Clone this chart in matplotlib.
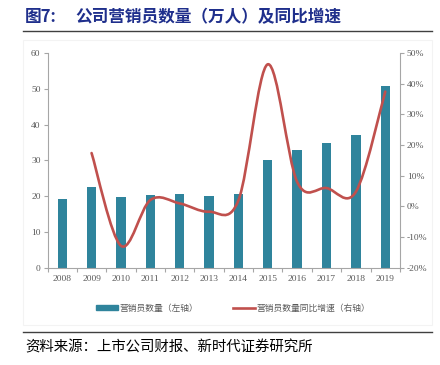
import matplotlib
matplotlib.use('Agg')
import numpy as np
import matplotlib.pyplot as plt
from matplotlib.path import Path
from matplotlib.patches import PathPatch, Rectangle
from matplotlib.lines import Line2D
from matplotlib.ticker import FixedLocator, FuncFormatter

plt.rcParams['font.family'] = ['Noto Sans CJK SC', 'DejaVu Sans']

years = ['2008', '2009', '2010', '2011', '2012', '2013',
         '2014', '2015', '2016', '2017', '2018', '2019']
agents = [19.3, 22.7, 19.9, 20.3, 20.5, 20.1, 20.6, 30.1, 32.9, 34.8, 37.1, 50.8]  # 万人
growth = [None, 17.4, -12.8, 2.1, 1.0, -1.7, 2.0, 46.3, 8.0, 6.0, 4.8, 37.4]  # %

bar_color = '#2F849C'
line_color = '#C0504D'
axis_gray = '#A6A6A6'
text_gray = '#595959'

fig = plt.figure(figsize=(4.4, 3.65), dpi=100)
ax = fig.add_axes([0.108, 0.266, 0.801, 0.589])
ax2 = ax.twinx()

x = np.arange(len(years))
ax.bar(x, agents, width=0.32, color=bar_color, zorder=2)

# smoothed line (bezier through the points, like excel's smooth line)
gx = [i for i, g in enumerate(growth) if g is not None]
gy = [g for g in growth if g is not None]
n = len(gx)
verts = [(gx[0], gy[0])]
codes = [Path.MOVETO]
for i in range(n - 1):
    p0 = (gx[max(i - 1, 0)], gy[max(i - 1, 0)])
    p1 = (gx[i], gy[i])
    p2 = (gx[i + 1], gy[i + 1])
    p3 = (gx[min(i + 2, n - 1)], gy[min(i + 2, n - 1)])
    c1 = (p1[0] + (p2[0] - p0[0]) / 6, p1[1] + (p2[1] - p0[1]) / 6)
    c2 = (p2[0] - (p3[0] - p1[0]) / 6, p2[1] - (p3[1] - p1[1]) / 6)
    verts += [c1, c2, p2]
    codes += [Path.CURVE4] * 3
ax2.add_patch(PathPatch(Path(verts, codes), fill=False, edgecolor=line_color,
                        lw=1.9, capstyle='round', joinstyle='round', zorder=3))

ax.set_xlim(-0.5, len(years) - 0.5)
ax.set_ylim(0, 60)
ax.set_yticks(range(0, 61, 10))
ax2.set_ylim(-20, 50)
ax2.set_yticks(range(-20, 51, 10))
ax2.yaxis.set_major_formatter(FuncFormatter(lambda v, p: '%d%%' % v))

ax.xaxis.set_major_locator(FixedLocator(np.arange(-0.5, len(years), 1)))
ax.xaxis.set_major_formatter(FuncFormatter(lambda v, p: ''))
ax.xaxis.set_minor_locator(FixedLocator(x))
ax.set_xticklabels(years, minor=True)
ax.tick_params(axis='x', which='major', length=3, color=axis_gray, direction='out')
ax.tick_params(axis='x', which='minor', length=0, pad=5)

for a in (ax, ax2):
    for s in a.spines.values():
        s.set_color(axis_gray)
        s.set_linewidth(0.8)
    a.spines['top'].set_visible(False)
    a.tick_params(which='both', labelsize=6.8, labelcolor=text_gray, color=axis_gray)
    for lab in a.get_xticklabels(minor=True) + a.get_yticklabels():
        lab.set_family('Liberation Serif')
ax.spines['right'].set_visible(False)
ax2.spines['left'].set_visible(False)
ax2.spines['bottom'].set_visible(False)
ax.tick_params(axis='y', length=3, pad=2)
ax2.tick_params(axis='y', length=3, pad=2)

# legend
h1 = Rectangle((0, 0), 1, 1, color=bar_color)
h2 = Line2D([], [], color=line_color, lw=1.9)
leg = fig.legend([h1, h2], ['营销员数量（左轴）', '营销员数量同比增速（右轴）'],
                 loc='center', bbox_to_anchor=(0.53, 0.156), ncol=2, frameon=False,
                 fontsize=6.3, labelcolor=text_gray, handlelength=2.5, handleheight=0.5,
                 columnspacing=4.0, handletextpad=0.2)
for t in leg.get_texts():
    t.set_fontweight('light')

# title, rules and source
fig.text(25 / 440, 1 - 17 / 365, '图7:', fontsize=12, fontweight='bold',
         color='#1F2F8C', va='center')
fig.text(75 / 440, 1 - 17 / 365, '公司营销员数量（万人）及同比增速', fontsize=12,
         fontweight='bold', color='#1F2F8C', va='center')
fig.add_artist(Line2D([23 / 440, 432 / 440], [1 - 31 / 365, 1 - 31 / 365],
                      transform=fig.transFigure, color='#404040', lw=1.0))
fig.add_artist(Line2D([23 / 440, 432 / 440], [1 - 332 / 365, 1 - 332 / 365],
                      transform=fig.transFigure, color='#404040', lw=1.0))
fig.add_artist(Rectangle((23 / 440, 1 - 325 / 365), 409 / 440, 285 / 365,
                         transform=fig.transFigure, fill=False,
                         edgecolor='#F3F3F3', lw=0.8))
fig.text(25 / 440, 1 - 347 / 365, '资料来源：上市公司财报、新时代证券研究所',
         fontsize=10.4, fontweight='light', color='black', va='center')

fig.savefig('out.png', dpi=100)
